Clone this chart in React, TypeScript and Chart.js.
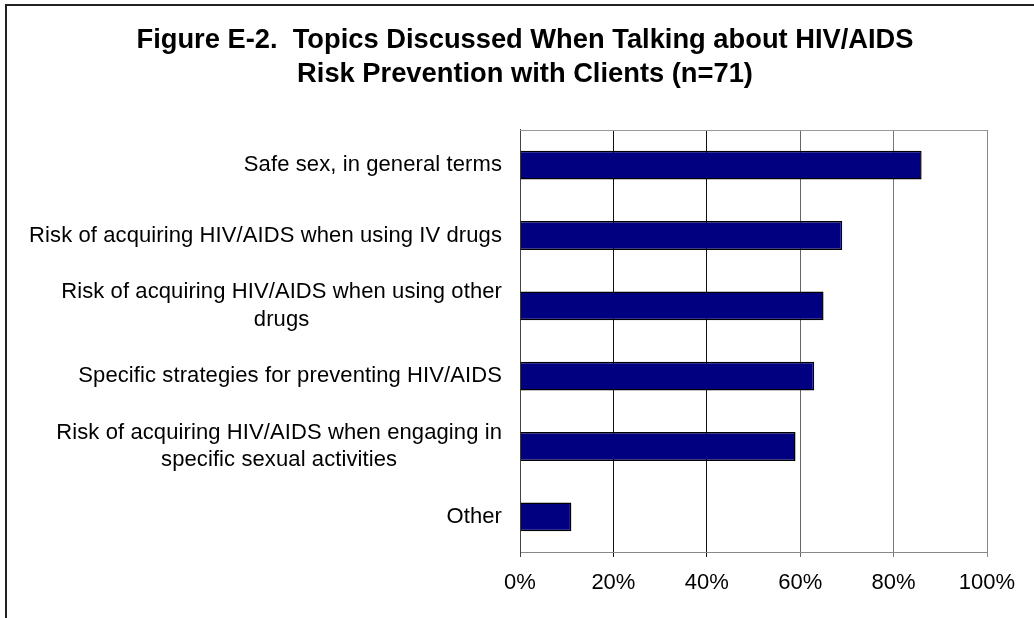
import React, { useEffect, useRef } from "react";
import { Chart, registerables } from "chart.js";

Chart.register(...registerables);

const titleLines = [
  "Figure E-2.  Topics Discussed When Talking about HIV/AIDS",
  "Risk Prevention with Clients (n=71)",
];

const categories: (string | string[])[] = [
  "Safe sex, in general terms",
  "Risk of acquiring HIV/AIDS when using IV drugs",
  ["Risk of acquiring HIV/AIDS when using other", "drugs"],
  "Specific strategies for preventing HIV/AIDS",
  ["Risk of acquiring HIV/AIDS when engaging in", "specific sexual activities"],
  "Other",
];

const values = [86, 69, 65, 63, 59, 11];

const xTickValues = [0, 20, 40, 60, 80, 100];

const FONT = '"Liberation Sans", Arial, Helvetica, sans-serif';

const yLabelPlugin = {
  id: "yLabelPlugin",
  afterDraw(chart: any) {
    const ctx = chart.ctx;
    const yScale = chart.scales.y;
    const area = chart.chartArea;
    ctx.save();
    ctx.font = `22px ${FONT}`;
    try {
      (ctx as any).letterSpacing = "0.1px";
    } catch (e) {}
    ctx.fillStyle = "#000";
    ctx.textBaseline = "middle";
    ctx.textAlign = "center";
    categories.forEach((lab, i) => {
      const lines = Array.isArray(lab) ? lab : [lab];
      const w = Math.max(...lines.map((l) => ctx.measureText(l).width));
      const right = area.left - 18;
      const cx = right - w / 2;
      const cy = yScale.getPixelForValue(i);
      lines.forEach((l, j) => {
        ctx.fillText(l, cx, cy + (j - (lines.length - 1) / 2) * 27.5);
      });
    });
    ctx.restore();
  },
};

const framePlugin = {
  id: "framePlugin",
  afterDatasetsDraw(chart: any) {
    const ctx = chart.ctx;
    const a = chart.chartArea;
    ctx.save();
    ctx.strokeStyle = "#999";
    ctx.lineWidth = 1;
    ctx.beginPath();
    ctx.moveTo(a.left, Math.round(a.top) + 0.5);
    ctx.lineTo(a.right, Math.round(a.top) + 0.5);
    ctx.stroke();
    ctx.restore();
  },
};

function gridColor(v: number): string {
  if (v === 0) return "#444";
  if (v === 20 || v === 40) return "#111";
  if (v === 60) return "#666";
  if (v === 80) return "#777";
  return "#888";
}

export default function App() {
  const canvasRef = useRef<HTMLCanvasElement | null>(null);

  useEffect(() => {
    const canvas = canvasRef.current;
    if (!canvas) return;
    const chart = new Chart(canvas, {
      type: "bar",
      data: {
        labels: categories as any,
        datasets: [
          {
            data: values,
            backgroundColor: "#000080",
            borderColor: "#000",
            borderWidth: 1.5,
            barPercentage: 0.41,
            categoryPercentage: 1,
          },
        ],
      },
      plugins: [yLabelPlugin, framePlugin],
      options: {
        indexAxis: "y",
        animation: false,
        responsive: false,
        maintainAspectRatio: false,
        devicePixelRatio: 1,
        layout: { padding: { left: 0, right: 0, top: 0, bottom: 0 } },
        plugins: {
          legend: { display: false },
          tooltip: { enabled: false },
          title: {
            display: true,
            text: titleLines,
            color: "#000",
            font: { family: FONT, size: 27.3, weight: "bold", lineHeight: 1.26 },
            padding: { top: 22.8, bottom: 38.4 },
          },
        },
        scales: {
          x: {
            type: "linear",
            min: 0,
            max: 100,
            afterBuildTicks: (scale: any) => {
              scale.ticks = xTickValues.map((v) => ({ value: v }));
            },
            afterFit: (scale: any) => {
              scale.height = 66;
            },
            grid: {
              color: (c: any) => gridColor(c.tick ? c.tick.value : 0),
              lineWidth: 1,
              tickLength: 5,
              drawTicks: true,
            },
            border: { display: true, color: "#888", width: 1 },
            ticks: {
              color: "#000",
              font: { family: FONT, size: 22 },
              padding: 13,
              maxRotation: 0,
              autoSkip: false,
              callback: (v: any) => `${v}%`,
            },
          },
          y: {
            type: "category",
            position: "left",
            afterFit: (scale: any) => {
              scale.width = 520;
            },
            grid: { display: false, drawTicks: false },
            border: { display: true, color: "#444", width: 1 },
            ticks: { display: false },
          },
          y2: {
            type: "linear",
            position: "right",
            display: true,
            afterFit: (scale: any) => {
              scale.width = 63;
            },
            grid: { display: false, drawTicks: false },
            border: { display: false },
            ticks: { display: false },
          },
        },
      },
    } as any);
    return () => chart.destroy();
  }, []);

  return (
    <div
      style={{
        position: "fixed",
        left: 0,
        top: 0,
        width: 1034,
        height: 618,
        overflow: "hidden",
        background: "#fff",
      }}
    >
      <div
        style={{
          position: "absolute",
          left: 5,
          top: 4,
          width: 2000,
          height: 2000,
          borderLeft: "2px solid #222",
          borderTop: "2px solid #222",
        }}
      />
      <canvas
        ref={canvasRef}
        width={1050}
        height={618}
        style={{ position: "absolute", left: 0, top: 0, width: 1050, height: 618 }}
      />
    </div>
  );
}
